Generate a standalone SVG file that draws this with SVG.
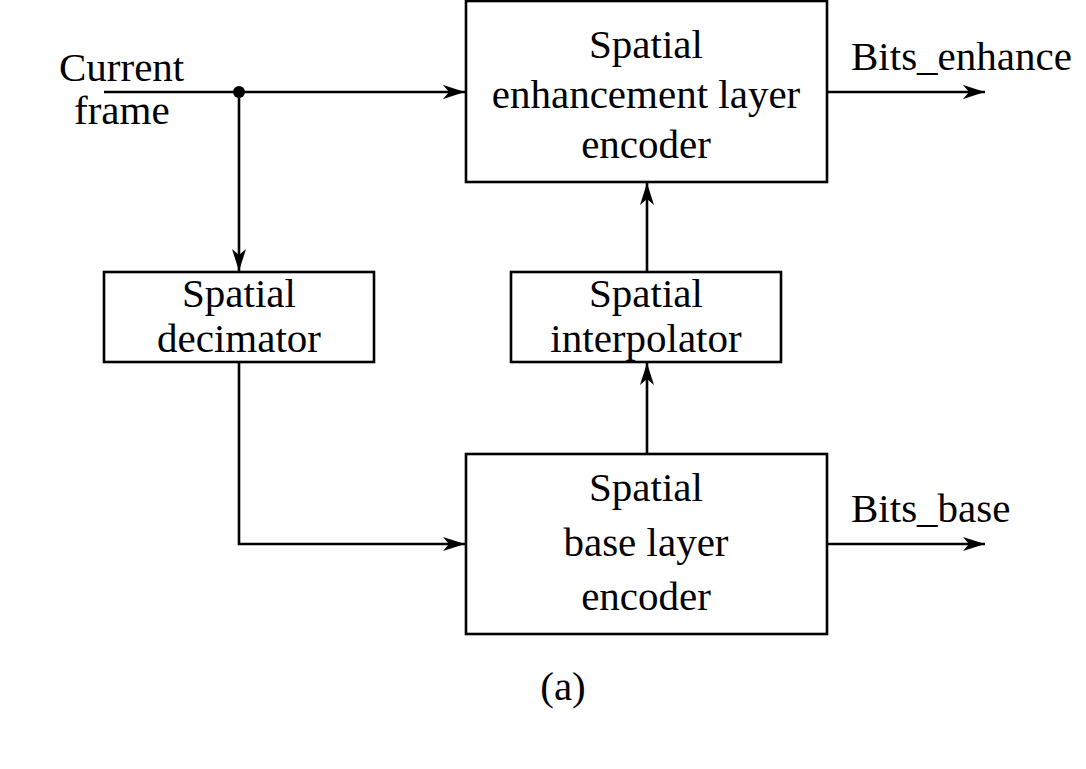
<svg xmlns="http://www.w3.org/2000/svg" width="1086" height="769" viewBox="0 0 1086 769">
<style>
.box{fill:#fff;stroke:#000;stroke-width:2.6}
.ln{fill:none;stroke:#000;stroke-width:2.6;marker-end:url(#ah)}
text{font-family:"Liberation Serif","Times New Roman",serif;font-size:41px;fill:#000}
.c{text-anchor:middle}
</style>
<defs>
<marker id="ah" viewBox="0 0 22 14" refX="22" refY="7" markerWidth="22" markerHeight="14" markerUnits="userSpaceOnUse" orient="auto">
<path d="M0,0 L22,7 L0,14 L6,7 Z" fill="#000"/>
</marker>
</defs>
<rect width="1086" height="769" fill="#fff"/>
<g id="connectors">
<path class="ln" d="M104,92 H465"/>
<path class="ln" d="M239,92 V271"/>
<path class="ln" d="M239,363 V544 H465"/>
<path class="ln" d="M647,453 V363"/>
<path class="ln" d="M647,271 V183"/>
<path class="ln" d="M828,92 H985"/>
<path class="ln" d="M828,544 H985"/>
<circle cx="239" cy="92" r="6" fill="#000"/>
</g>
<g id="input-label">
<text x="59" y="81">Current</text>
<text x="74" y="124">frame</text>
</g>
<g id="enhance-encoder">
<rect class="box" x="466" y="1" width="361" height="181"/>
<text class="c" x="646" y="58">Spatial</text>
<text class="c" x="646" y="108">enhancement layer</text>
<text class="c" x="646" y="158">encoder</text>
</g>
<g id="decimator">
<rect class="box" x="104" y="272" width="270" height="90"/>
<text class="c" x="239" y="307">Spatial</text>
<text class="c" x="239" y="352">decimator</text>
</g>
<g id="interpolator">
<rect class="box" x="511" y="272" width="270" height="90"/>
<text class="c" x="646" y="307">Spatial</text>
<text class="c" x="646" y="352">interpolator</text>
</g>
<g id="base-encoder">
<rect class="box" x="466" y="454" width="361" height="180"/>
<text class="c" x="646" y="501">Spatial</text>
<text class="c" x="646" y="556">base layer</text>
<text class="c" x="646" y="610">encoder</text>
</g>
<g id="outputs">
<text x="851" y="70">Bits_enhance</text>
<text x="851" y="522">Bits_base</text>
</g>
<g id="caption">
<text class="c" x="563" y="700">(a)</text>
</g>
</svg>
